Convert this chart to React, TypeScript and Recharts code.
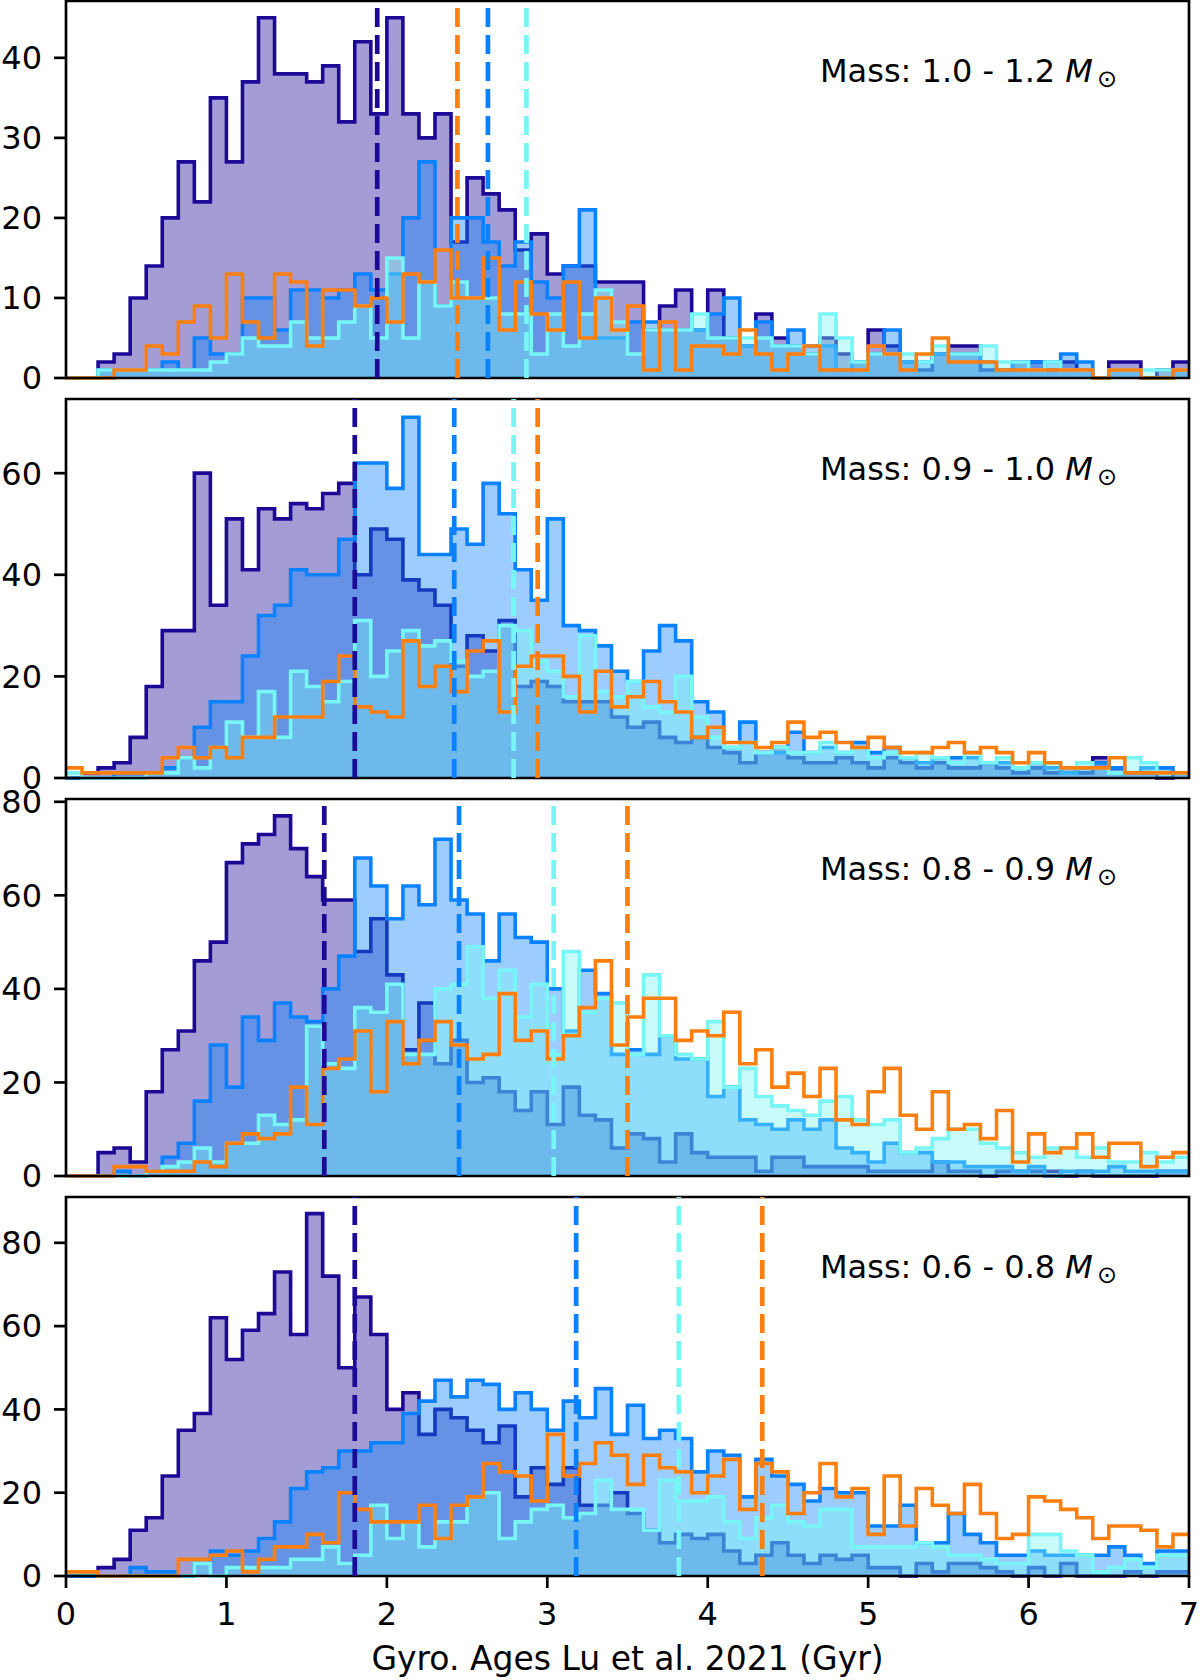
import React from "react";
import {
  ComposedChart,
  Area,
  XAxis,
  YAxis,
  ReferenceLine,
  ReferenceArea,
} from "recharts";

// ─── Data: counts per 0.1 Gyr bin, 0 – 7 Gyr (70 bins) ────────────────────────

const BIN_WIDTH = 0.1;
const X_TICKS = [0, 1, 2, 3, 4, 5, 6, 7];

// Mass 1.0 - 1.2
const p1Navy = [0,0,2,3,10,14,20,27,22,35, 27,37,45,38,38,37,39,32,42,33, 45,33,30,33,17,25,23,21,16,18, 13,14,14,12,12,12,6,9,11,6, 11,5,4,8,5,4,3,5,3,2, 6,4,2,1,3,4,4,1,1,2, 2,1,2,1,0,2,2,0,1,2];
const p1Blue = [0,0,1,1,1,1,2,1,5,3, 3,10,10,6,11,11,10,11,13,11, 13,20,27,9,20,20,17,14,17,12, 10,14,21,5,5,7,7,6,6,6, 8,10,4,7,4,6,4,4,1,2, 3,6,2,2,3,3,3,2,1,2, 2,2,3,2,0,1,1,0,0,1];
const p1Cyan = [0,0,1,1,1,1,1,1,1,2, 3,5,4,4,7,5,5,7,9,5, 15,5,12,9,12,10,10,8,8,3, 8,4,8,11,7,3,6,6,6,8, 5,5,5,5,4,4,3,8,5,2, 3,3,3,2,4,3,3,4,2,2, 1,2,1,1,0,1,1,1,1,1];
const p1Orange = [0,0,0,1,1,4,3,7,9,5, 13,7,5,13,12,4,11,11,9,10, 7,13,12,16,10,10,15,6,12,8, 6,12,5,10,6,9,1,7,1,4, 4,3,6,3,1,3,4,1,1,1, 4,3,1,3,5,2,2,2,1,1, 1,1,1,1,0,1,1,0,0,1];
const p1Medians = [1.94, 2.63, 2.87, 2.44]; // navy, blue, cyan, orange

// Mass 0.9 - 1.0
const p2Navy = [0,1,2,3,8,18,29,29,60,34, 51,41,53,51,54,53,56,58,40,49, 47,39,37,34,22,28,25,31,18,19, 18,15,15,15,12,10,11,8,7,8, 6,5,3,5,6,4,3,3,4,3, 2,4,3,2,3,2,2,3,2,1, 2,1,2,1,4,2,1,1,0,1];
const p2Blue = [0,0,0,1,1,1,2,4,10,15, 15,24,32,34,41,40,40,47,62,62, 57,71,44,44,49,46,58,52,41,35, 51,30,29,26,21,19,25,30,27,15, 13,6,11,5,5,9,5,6,5,7, 5,6,4,3,4,4,4,3,3,2, 3,2,1,2,3,2,1,2,2,1];
const p2Cyan = [1,0,0,0,0,1,1,4,2,6, 11,8,17,8,21,18,15,19,31,20, 25,29,26,27,23,20,21,30,29,23, 21,16,28,17,16,19,14,13,20,12, 8,6,7,5,6,5,5,7,5,6, 4,5,4,5,4,3,5,3,4,2, 3,3,2,3,2,1,4,3,1,1];
const p2Orange = [2,1,1,1,1,1,4,6,4,6, 4,8,8,12,12,12,19,24,14,13, 12,27,18,22,17,25,27,13,22,24, 24,20,13,21,14,16,19,15,13,8, 10,7,7,6,7,11,8,9,7,6, 8,6,5,5,6,7,5,6,5,3, 5,3,2,2,2,4,1,1,1,1];
const p2Medians = [1.8, 2.42, 2.79, 2.94];

// Mass 0.8 - 0.9
const p3Navy = [0,0,5,6,3,18,27,31,46,50, 67,71,73,77,70,64,59,59,48,55, 43,27,37,24,29,20,21,18,14,18, 11,19,13,12,6,9,8,3,9,5, 4,4,4,1,4,4,2,2,2,2, 1,1,1,1,3,1,1,0,1,1, 1,1,0,1,0,0,0,0,1,1];
const p3Blue = [0,0,0,1,0,1,4,7,16,28, 19,34,29,37,34,33,40,47,68,62, 55,62,58,72,59,56,46,56,51,50, 40,31,44,39,26,27,26,30,25,25, 17,19,12,11,10,12,10,12,6,5, 3,7,5,5,3,3,2,2,2,1, 2,0,1,1,1,2,1,1,1,1];
const p3Cyan = [0,0,0,0,0,1,2,3,6,3, 7,7,13,11,12,32,24,23,36,35, 41,26,26,40,41,49,38,44,34,41, 26,48,35,38,37,26,43,30,26,25, 33,19,23,17,15,14,13,16,17,12, 11,12,5,6,8,10,10,7,6,5, 4,6,6,4,6,3,3,5,3,4];
const p3Orange = [0,0,0,2,2,1,1,1,3,2, 7,9,8,9,19,11,23,25,31,18, 33,24,29,33,28,25,26,39,29,31, 25,30,36,46,28,34,38,38,29,31, 30,35,24,27,19,22,17,23,12,11, 18,23,13,10,18,10,11,8,14,3, 9,5,6,9,4,7,7,2,4,5];
const p3Medians = [1.61, 2.45, 3.04, 3.5];

// Mass 0.6 - 0.8
const p4Navy = [0,0,2,4,11,14,24,35,39,62, 52,59,63,73,58,87,72,50,67,58, 40,44,34,40,38,35,32,36,19,26, 22,26,17,17,20,15,11,8,10,9, 10,6,3,5,8,5,3,5,4,5, 2,2,0,3,1,3,3,2,1,0, 2,0,3,0,0,0,1,0,1,1];
const p4Blue = [0,0,0,0,2,1,1,0,3,6, 5,6,9,13,21,25,26,30,30,32, 32,39,42,47,43,47,46,40,44,40, 35,42,38,45,34,41,33,35,33,25, 30,29,19,28,24,22,18,21,20,20, 12,12,17,8,8,15,10,8,5,5, 6,5,5,5,5,7,5,3,6,6];
const p4Cyan = [1,1,0,0,0,0,0,0,3,0, 2,2,2,2,4,4,7,3,5,17, 9,13,7,13,13,19,20,9,13,16, 17,14,15,23,16,16,11,23,18,18, 19,13,9,14,17,13,12,16,16,7, 7,7,7,8,7,5,5,4,3,3, 10,10,6,5,1,2,4,2,5,5];
const p4Orange = [1,1,0,0,0,0,0,4,4,5, 6,1,4,7,7,10,8,20,16,13, 13,13,17,9,17,19,27,25,24,18, 34,24,27,32,29,22,29,26,25,20, 24,28,16,27,25,15,20,27,19,21, 10,24,12,21,17,15,22,15,9,10, 19,18,16,14,9,12,12,11,7,10];
const p4Medians = [1.8, 3.18, 3.82, 4.34];

const PANELS = [
  { mass: "1.0 - 1.2", navy: p1Navy, blue: p1Blue, cyan: p1Cyan, orange: p1Orange, medians: p1Medians, yMax: 47.1, yTicks: [0, 10, 20, 30, 40] },
  { mass: "0.9 - 1.0", navy: p2Navy, blue: p2Blue, cyan: p2Cyan, orange: p2Orange, medians: p2Medians, yMax: 74.6, yTicks: [0, 20, 40, 60] },
  { mass: "0.8 - 0.9", navy: p3Navy, blue: p3Blue, cyan: p3Cyan, orange: p3Orange, medians: p3Medians, yMax: 80.6, yTicks: [0, 20, 40, 60, 80] },
  { mass: "0.6 - 0.8", navy: p4Navy, blue: p4Blue, cyan: p4Cyan, orange: p4Orange, medians: p4Medians, yMax: 91, yTicks: [0, 20, 40, 60, 80] },
];

// ─── Styles ───────────────────────────────────────────────────────────────────

const SERIES = [
  { key: "navy", color: "#1c0a96", filled: true },
  { key: "blue", color: "#0a82ff", filled: true },
  { key: "cyan", color: "#78f5f5", filled: true },
  { key: "orange", color: "#ff7f0e", filled: false },
];

const FONT = "DejaVu Sans, Verdana, sans-serif";
const TICK_STYLE = { fill: "#000", fontSize: 32, fontFamily: FONT };
const TICK_LINE = { stroke: "#000", strokeWidth: 2.7 };

// plot-area top edge (px) and height of each panel on the page
const PANEL_TOPS = [1, 399, 799, 1197];
const PLOT_HEIGHTS = [377, 379, 377, 379];
const PAD_TOP = 20;
const PAD_BOTTOM = 20;
const X_AXIS_HEIGHT = 103;

function toRows(panel: any) {
  const n = panel.navy.length;
  const rows = [];
  for (let i = 0; i <= n; i++) {
    const j = Math.min(i, n - 1);
    rows.push({
      x: Math.round(i * BIN_WIDTH * 100) / 100,
      navy: panel.navy[j],
      blue: panel.blue[j],
      cyan: panel.cyan[j],
      orange: panel.orange[j],
    });
  }
  return rows;
}

function Panel({ panel, index }: { panel: any; index: number }) {
  const showX = index === PANELS.length - 1;
  const plotH = PLOT_HEIGHTS[index];
  const height = PAD_TOP + plotH + (showX ? X_AXIS_HEIGHT : PAD_BOTTOM);
  const rows = toRows(panel);

  return (
    <div style={{ position: "absolute", left: 0, top: PANEL_TOPS[index] - PAD_TOP, width: 1200, height }}>
      <ComposedChart
        width={1200}
        height={height}
        data={rows}
        margin={{ top: PAD_TOP, right: 11, bottom: showX ? 0 : PAD_BOTTOM, left: 0 }}
      >
        <XAxis
          dataKey="x"
          type="number"
          domain={[0, 7]}
          ticks={X_TICKS}
          interval={0}
          hide={!showX}
          height={X_AXIS_HEIGHT}
          axisLine={false}
          tickLine={TICK_LINE}
          tickSize={12}
          tickMargin={14}
          tick={TICK_STYLE}
          label={
            showX
              ? {
                  value: "Gyro. Ages Lu et al. 2021 (Gyr)",
                  position: "insideBottom",
                  offset: 9,
                  fill: "#000",
                  fontSize: 33,
                  fontFamily: FONT,
                }
              : undefined
          }
        />
        <YAxis
          type="number"
          domain={[0, panel.yMax]}
          ticks={panel.yTicks}
          interval={0}
          width={66}
          axisLine={false}
          tickLine={TICK_LINE}
          tickSize={12}
          tickMargin={12}
          tick={TICK_STYLE}
        />
        {SERIES.map((s) => (
          <Area
            key={s.key}
            type="stepAfter"
            dataKey={s.key}
            stroke={s.color}
            strokeWidth={3.6}
            fill={s.filled ? s.color : "none"}
            fillOpacity={s.filled ? 0.4 : 0}
            dot={false}
            activeDot={false}
            isAnimationActive={false}
          />
        ))}
        {SERIES.map((s, i) => (
          <ReferenceLine
            key={`med-${s.key}`}
            x={panel.medians[i]}
            stroke={s.color}
            strokeWidth={4.7}
            strokeDasharray="19 8"
          />
        ))}
        <ReferenceArea
          x1={0}
          x2={7}
          y1={0}
          y2={panel.yMax}
          fill="none"
          stroke="#000"
          strokeWidth={2.7}
        />
      </ComposedChart>
      <svg
        width={1200}
        height={130}
        style={{ position: "absolute", left: 0, top: 0, pointerEvents: "none" }}
      >
        <text x={820} y={PAD_TOP + 81} fontSize={32} fontFamily={FONT} fill="#000">
          {`Mass: ${panel.mass} `}
          <tspan fontStyle="italic">M</tspan>
          <tspan fontSize={24} dx={4} dy={5}>⊙</tspan>
        </text>
      </svg>
    </div>
  );
}

export default function App() {
  return (
    <div style={{ position: "absolute", left: 0, top: 0, width: 1200, height: 1680, background: "#fff" }}>
      {PANELS.map((p, i) => (
        <Panel key={p.mass} panel={p} index={i} />
      ))}
    </div>
  );
}
